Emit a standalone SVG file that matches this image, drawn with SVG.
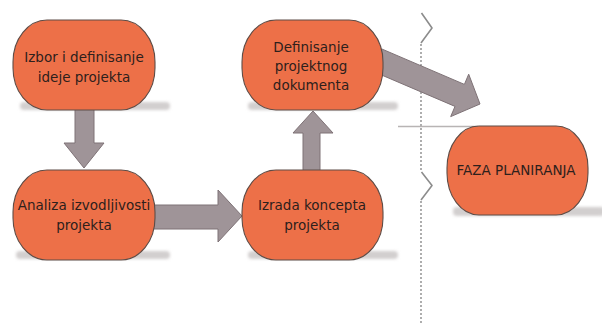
<svg xmlns="http://www.w3.org/2000/svg" width="602" height="323" viewBox="0 0 602 323">
  <style>
    .node { fill: #ED7048; stroke: #5e4c46; stroke-width: 1.1; }
    .shadow { fill: #d2cfcf; filter: url(#soft); }
    .arrow { fill: #9f9498; stroke: #7e7276; stroke-width: 1; stroke-linejoin: round; }
    .label { font-family: "DejaVu Sans", "Liberation Sans", sans-serif; font-size: 13.5px; fill: #2e201c; text-anchor: middle; }
    .divider { stroke: #9a9a9a; stroke-width: 1.6; stroke-dasharray: 2 2; fill: none; }
    .chevron { stroke: #8c8c8c; stroke-width: 1.6; fill: none; stroke-linejoin: round; }
  </style>
  <defs>
    <filter id="soft" x="-10%" y="-100%" width="120%" height="300%">
      <feGaussianBlur stdDeviation="1.8"/>
    </filter>
  </defs>
  <rect width="602" height="323" fill="#ffffff"/>

  <!-- phase divider -->
  <g id="divider">
    <line class="divider" x1="421" y1="44" x2="421" y2="171"/>
    <line class="divider" x1="421" y1="201" x2="421" y2="323"/>
    <polyline class="chevron" points="421.5,13 432,28 421,43"/>
    <polyline class="chevron" points="421.5,172 432,185.5 421,200"/>
    <line x1="398" y1="126.5" x2="478" y2="126.5" stroke="#b8b4b4" stroke-width="1.5"/>
  </g>

  <!-- node shadows -->
  <g id="shadows">
    <rect class="shadow" x="20" y="102" width="150" height="8" rx="4"/>
    <rect class="shadow" x="16" y="251" width="154" height="8" rx="4"/>
    <rect class="shadow" x="248" y="251" width="150" height="8" rx="4"/>
    <rect class="shadow" x="248" y="102" width="150" height="8" rx="4"/>
    <rect class="shadow" x="453" y="207" width="152" height="9" rx="4"/>
  </g>

  <!-- connectors -->
  <g id="connectors">
    <!-- idea -> feasibility -->
    <polygon class="arrow" points="75,100 94,100 94,143 104,143 84,168 64,143 75,143"/>
    <!-- feasibility -> concept -->
    <polygon class="arrow" points="150,205 218,205 218,190 242,216 218,242 218,229 150,229"/>
    <!-- concept -> document -->
    <polygon class="arrow" points="303,180 303,133 293,133 313,111 333,133 320,133 320,180"/>
    <!-- document -> planning phase -->
    <polygon class="arrow" points="381.6,48.9 464.4,84.4 468.7,74.2 480,104 450.7,116.6 455,106.4 372.2,71"/>
  </g>

  <g id="node-izbor">
    <rect class="node" x="13" y="20" width="142" height="90" rx="34" ry="42"/>
    <text class="label" x="84" y="62">Izbor i definisanje</text>
    <text class="label" x="84" y="82">ideje projekta</text>
  </g>

  <g id="node-analiza">
    <rect class="node" x="13" y="170" width="142" height="90" rx="34" ry="42"/>
    <text class="label" x="84" y="210">Analiza izvodljivosti</text>
    <text class="label" x="84" y="230">projekta</text>
  </g>

  <g id="node-izrada">
    <rect class="node" x="242" y="170" width="141" height="90" rx="34" ry="42"/>
    <text class="label" x="312" y="210">Izrada koncepta</text>
    <text class="label" x="312" y="230">projekta</text>
  </g>

  <g id="node-dokument">
    <rect class="node" x="242" y="20" width="141" height="90" rx="34" ry="42"/>
    <text class="label" x="311" y="52">Definisanje</text>
    <text class="label" x="311" y="71">projektnog</text>
    <text class="label" x="311" y="90">dokumenta</text>
  </g>

  <g id="node-faza">
    <rect class="node" x="447" y="126" width="141" height="89" rx="32" ry="42"/>
    <text class="label" x="516" y="175">FAZA PLANIRANJA</text>
  </g>
</svg>
